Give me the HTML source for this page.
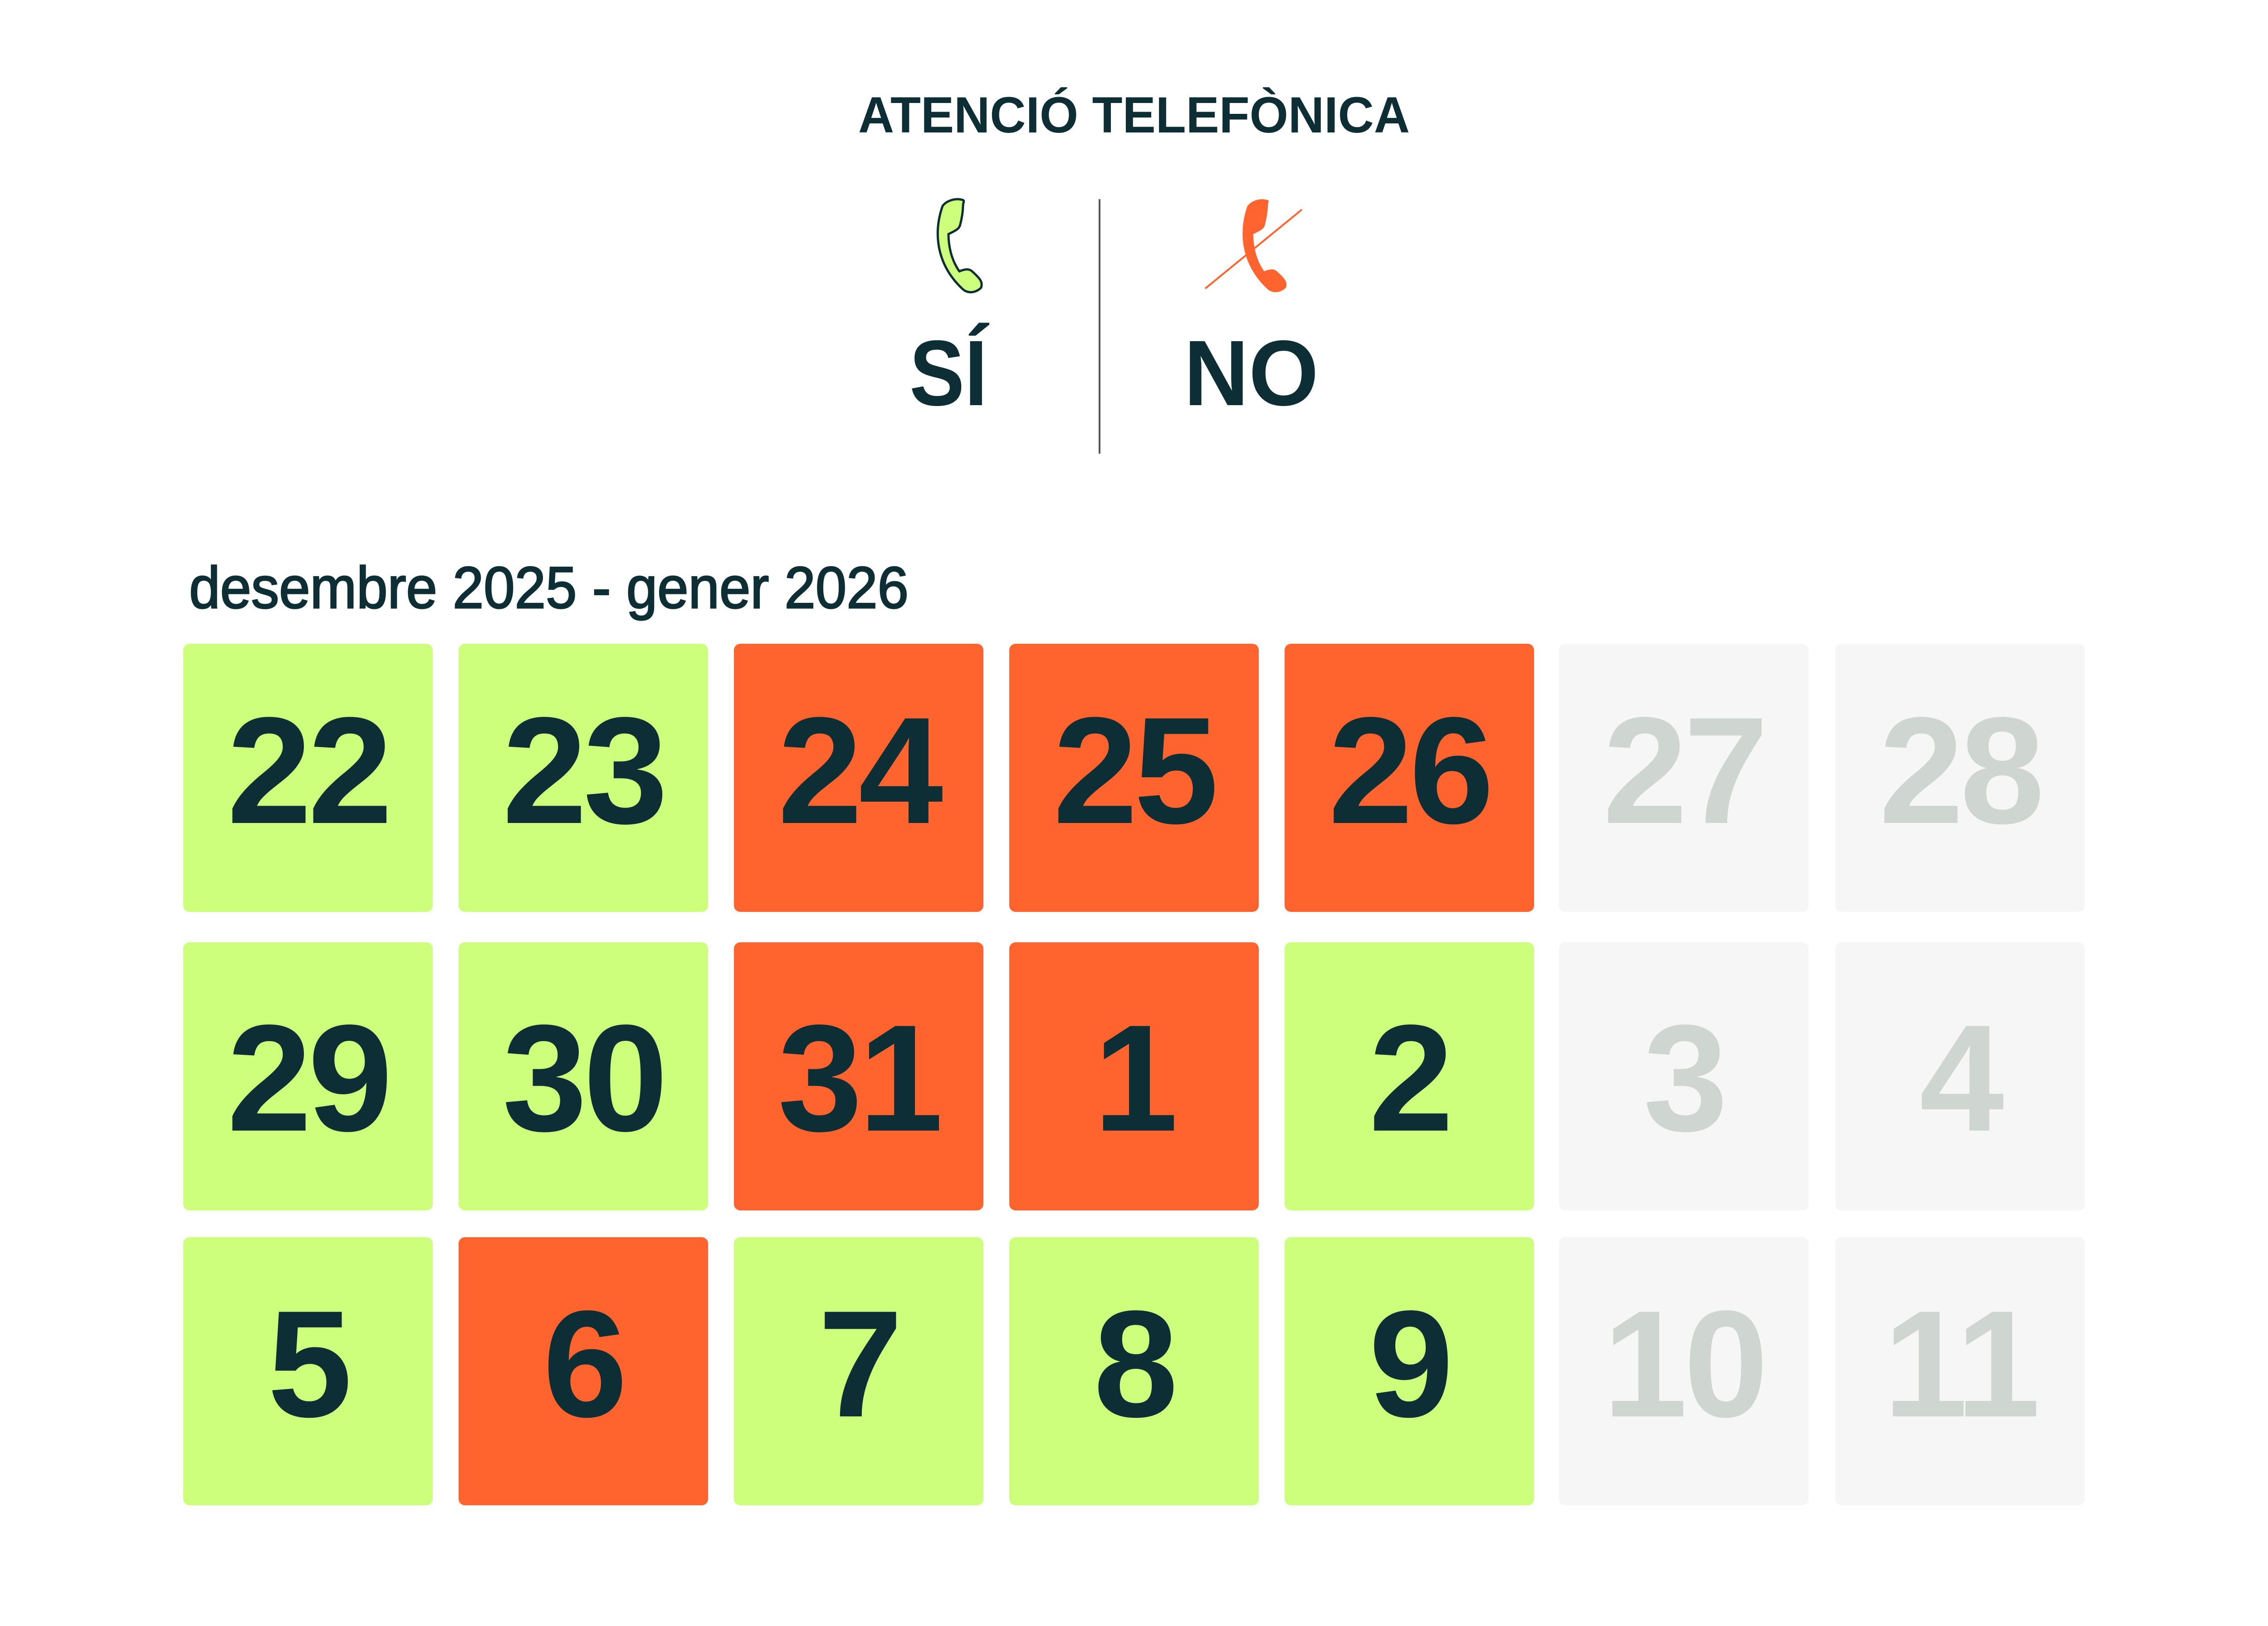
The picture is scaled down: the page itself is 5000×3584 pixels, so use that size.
<!DOCTYPE html>
<html><head><meta charset="utf-8"><style>
html,body{margin:0;padding:0;background:#fff;width:5000px;height:3584px;overflow:hidden}
svg{display:block}
text{font-family:"Liberation Sans",sans-serif}
</style></head><body>
<svg width="5000" height="3584" viewBox="0 0 5000 3584" xmlns="http://www.w3.org/2000/svg">
<rect width="5000" height="3584" fill="#fff"/>
<text x="1892" y="292" font-size="112" font-weight="bold" fill="#0d2e35" textLength="1216" lengthAdjust="spacingAndGlyphs">ATENCIÓ TELEFÒNICA</text>
<line x1="2424" y1="439" x2="2424" y2="1000" stroke="#555" stroke-width="4"/>
<g transform="translate(2043,436)">
<path d="M80 5 C65 0,45 5,35 18 C15 75,20 145,78 200 C90 212,108 210,120 198 C124 186,118 178,100 162 C92 155,82 158,72 162 C55 138,48 108,48 80 C60 74,70 70,73 62 C77 48,80 30,80 18 C80 10,84 7,80 5 Z" fill="#cdff7d" stroke="#0d2e35" stroke-width="5"/>
</g>
<g transform="translate(2715,436)">
<path d="M80 5 C65 0,45 5,35 18 C15 75,20 145,78 200 C90 212,108 210,120 198 C124 186,118 178,100 162 C92 155,82 158,72 162 C55 138,48 108,48 80 C60 74,70 70,73 62 C77 48,80 30,80 18 C80 10,84 7,80 5 Z" fill="#ff642e"/>
</g>
<line x1="2657" y1="636" x2="2870" y2="462" stroke="#ff642e" stroke-width="4"/>
<text x="2005" y="893" font-size="205" font-weight="bold" fill="#0d2e35" textLength="172" lengthAdjust="spacingAndGlyphs">SÍ</text>
<text x="2610" y="893" font-size="205" font-weight="bold" fill="#0d2e35" textLength="297" lengthAdjust="spacingAndGlyphs">NO</text>
<text x="417" y="1340" font-size="130" fill="#0d2e35" stroke="#0d2e35" stroke-width="3" textLength="1586" lengthAdjust="spacingAndGlyphs">desembre 2025 - gener 2026</text>
<g font-size="335" font-weight="bold" text-anchor="middle" letter-spacing="-8">
<rect x="404" y="1419" width="550" height="591" rx="14" fill="#cdff7d"/><text x="679" y="1814" fill="#0d2e35">22</text>
<rect x="1011" y="1419" width="550" height="591" rx="14" fill="#cdff7d"/><text x="1286" y="1814" fill="#0d2e35">23</text>
<rect x="1618" y="1419" width="550" height="591" rx="14" fill="#ff642e"/><text x="1893" y="1814" fill="#0d2e35">24</text>
<rect x="2225" y="1419" width="550" height="591" rx="14" fill="#ff642e"/><text x="2500" y="1814" fill="#0d2e35">25</text>
<rect x="2832" y="1419" width="550" height="591" rx="14" fill="#ff642e"/><text x="3107" y="1814" fill="#0d2e35">26</text>
<rect x="3437" y="1419" width="550" height="591" rx="14" fill="#f6f6f6"/><text x="3712" y="1814" fill="#cfd5d1">27</text>
<rect x="4046" y="1419" width="550" height="591" rx="14" fill="#f6f6f6"/><text x="4321" y="1814" fill="#cfd5d1">28</text>
<rect x="404" y="2077" width="550" height="591" rx="14" fill="#cdff7d"/><text x="679" y="2492" fill="#0d2e35">29</text>
<rect x="1011" y="2077" width="550" height="591" rx="14" fill="#cdff7d"/><text x="1286" y="2492" fill="#0d2e35">30</text>
<rect x="1618" y="2077" width="550" height="591" rx="14" fill="#ff642e"/><text x="1893" y="2492" fill="#0d2e35">31</text>
<rect x="2225" y="2077" width="550" height="591" rx="14" fill="#ff642e"/><text x="2500" y="2492" fill="#0d2e35">1</text>
<rect x="2832" y="2077" width="550" height="591" rx="14" fill="#cdff7d"/><text x="3107" y="2492" fill="#0d2e35">2</text>
<rect x="3437" y="2077" width="550" height="591" rx="14" fill="#f6f6f6"/><text x="3712" y="2492" fill="#cfd5d1">3</text>
<rect x="4046" y="2077" width="550" height="591" rx="14" fill="#f6f6f6"/><text x="4321" y="2492" fill="#cfd5d1">4</text>
<rect x="404" y="2727" width="550" height="591" rx="14" fill="#cdff7d"/><text x="679" y="3122" fill="#0d2e35">5</text>
<rect x="1011" y="2727" width="550" height="591" rx="14" fill="#ff642e"/><text x="1286" y="3122" fill="#0d2e35">6</text>
<rect x="1618" y="2727" width="550" height="591" rx="14" fill="#cdff7d"/><text x="1893" y="3122" fill="#0d2e35">7</text>
<rect x="2225" y="2727" width="550" height="591" rx="14" fill="#cdff7d"/><text x="2500" y="3122" fill="#0d2e35">8</text>
<rect x="2832" y="2727" width="550" height="591" rx="14" fill="#cdff7d"/><text x="3107" y="3122" fill="#0d2e35">9</text>
<rect x="3437" y="2727" width="550" height="591" rx="14" fill="#f6f6f6"/><text x="3712" y="3122" fill="#cfd5d1">10</text>
<rect x="4046" y="2727" width="550" height="591" rx="14" fill="#f6f6f6"/><text x="4321" y="3122" fill="#cfd5d1">11</text>
</g>
</svg>
</body></html>
